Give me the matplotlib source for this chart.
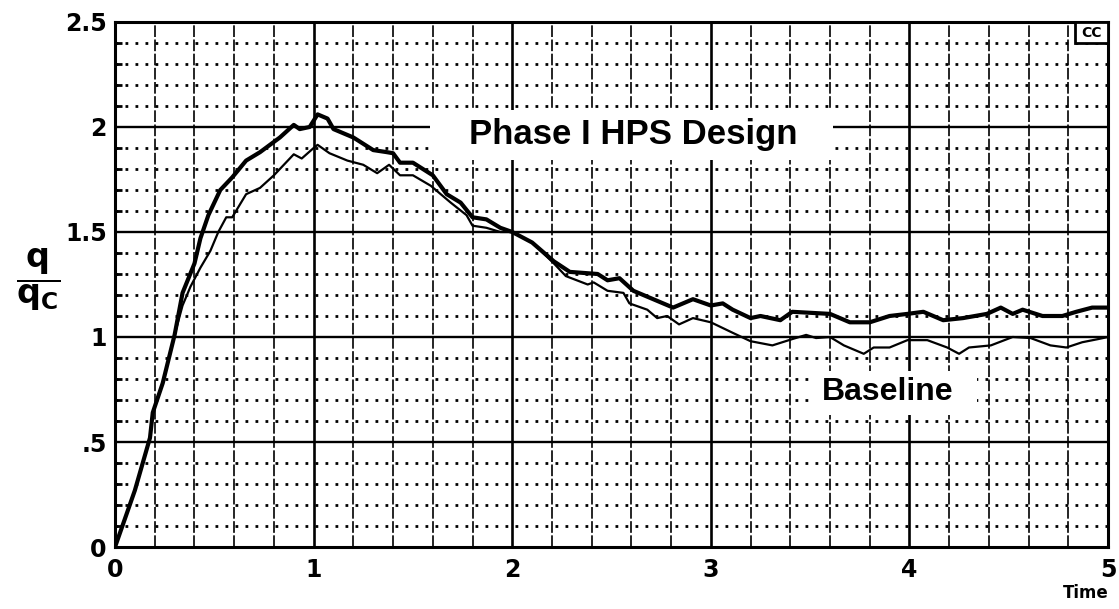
import numpy as np
import matplotlib.pyplot as plt
from matplotlib.patches import Rectangle

# --- pressure ratio histories, q / q_c versus time ---
t_design = [0.0, 0.10, 0.176, 0.19, 0.24, 0.30, 0.34, 0.40, 0.43, 0.47, 0.53, 0.59, 0.66,
            0.73, 0.83, 0.90, 0.93, 0.98, 1.02, 1.07, 1.10, 1.20, 1.30, 1.37, 1.40,
            1.435, 1.50, 1.60, 1.67, 1.74, 1.80, 1.87, 1.94, 2.00, 2.10, 2.21, 2.29,
            2.43, 2.48, 2.54, 2.61, 2.71, 2.81, 2.91, 3.00, 3.06, 3.11, 3.20, 3.25,
            3.35, 3.41, 3.60, 3.70, 3.80, 3.90, 3.99, 4.07, 4.17, 4.27, 4.39, 4.46,
            4.52, 4.57, 4.67, 4.77, 4.84, 4.92, 5.00]
q_design = [0.0, 0.27, 0.52, 0.64, 0.78, 1.01, 1.21, 1.35, 1.47, 1.58, 1.70, 1.76, 1.84,
            1.88, 1.95, 2.01, 1.99, 2.00, 2.06, 2.04, 1.99, 1.95, 1.89, 1.88, 1.875,
            1.83, 1.83, 1.77, 1.68, 1.64, 1.57, 1.56, 1.52, 1.50, 1.45, 1.36, 1.31,
            1.30, 1.27, 1.28, 1.22, 1.18, 1.14, 1.18, 1.15, 1.16, 1.13, 1.09, 1.10,
            1.08, 1.12, 1.11, 1.07, 1.07, 1.10, 1.11, 1.12, 1.08, 1.09, 1.11, 1.14,
            1.11, 1.13, 1.10, 1.10, 1.12, 1.14, 1.14]

t_base = [0.0, 0.10, 0.176, 0.19, 0.24, 0.30, 0.34, 0.38, 0.43, 0.48, 0.52, 0.56, 0.59,
          0.66, 0.73, 0.80, 0.90, 0.94, 1.00, 1.02, 1.08, 1.17, 1.25, 1.32, 1.38,
          1.435, 1.50, 1.59, 1.69, 1.77, 1.80, 1.87, 1.94, 2.00, 2.10, 2.21, 2.27,
          2.38, 2.41, 2.48, 2.56, 2.59, 2.68, 2.73, 2.78, 2.84, 2.91, 3.00, 3.11,
          3.20, 3.31, 3.41, 3.48, 3.53, 3.60, 3.67, 3.77, 3.82, 3.90, 3.99, 4.09,
          4.19, 4.25, 4.30, 4.41, 4.52, 4.61, 4.71, 4.79, 4.87, 4.95, 5.00]
q_base = [0.0, 0.27, 0.52, 0.64, 0.78, 1.01, 1.15, 1.24, 1.33, 1.41, 1.50, 1.57, 1.57,
          1.68, 1.71, 1.77, 1.87, 1.85, 1.90, 1.915, 1.875, 1.84, 1.82, 1.78, 1.82,
          1.77, 1.77, 1.72, 1.64, 1.58, 1.53, 1.52, 1.50, 1.50, 1.45, 1.35, 1.29,
          1.25, 1.26, 1.22, 1.21, 1.16, 1.13, 1.09, 1.10, 1.06, 1.09, 1.07, 1.02,
          0.98, 0.96, 0.99, 1.01, 0.995, 1.00, 0.96, 0.92, 0.95, 0.95, 0.985, 0.985,
          0.95, 0.92, 0.95, 0.96, 1.00, 0.995, 0.96, 0.95, 0.975, 0.99, 1.00]

x_ticks = [0, 1, 2, 3, 4, 5]
y_ticks = [0, 0.5, 1, 1.5, 2, 2.5]
y_tick_labels = ["0", ".5", "1", "1.5", "2", "2.5"]

plt.rcParams['font.family'] = ['Liberation Sans', 'DejaVu Sans']
tick_font = ['DejaVu Sans']

fig = plt.figure(figsize=(11.19, 6.09), dpi=100)
ax = fig.add_axes([0.1028, 0.1018, 0.8874, 0.8621])
ax.set_xlim(0, 5)
ax.set_ylim(0, 2.5)

# grid: dotted every 0.1 / solid every 0.5 in q, thin every 0.2 / heavy every 1 in time
for y in np.arange(0.1, 2.5, 0.1):
    if abs(y / 0.5 - round(y / 0.5)) < 1e-6:
        ax.axhline(y, color='black', lw=1.7, zorder=1)
    else:
        ax.axhline(y, color='black', lw=2.0, linestyle=(0, (1, 2.6)), zorder=1)
for x in np.arange(0.2, 5.0, 0.2):
    if abs(x - round(x)) < 1e-6:
        ax.axvline(x, color='black', lw=1.9, zorder=1)
    else:
        ax.axvline(x, color='black', lw=1.2, linestyle=(0, (7, 1.5)), zorder=1)

# label plates knock out the grid behind them
ax.add_patch(Rectangle((1.586, 1.843), 2.03, 0.238, facecolor='white',
                       edgecolor='none', zorder=2))
ax.add_patch(Rectangle((3.52, 0.63), 0.82, 0.21, facecolor='white',
                       edgecolor='none', zorder=2))

ax.plot(t_base, q_base, color='black', lw=1.6, zorder=3)
ax.plot(t_design, q_design, color='black', lw=3.0, zorder=4)

ax.text(2.61, 1.965, "Phase I HPS Design", fontsize=25, fontweight='bold',
        ha='center', va='center', zorder=5)
ax.text(3.89, 0.74, "Baseline", fontsize=23, fontweight='bold',
        ha='center', va='center', zorder=5)

# small corner tag
ax.add_patch(Rectangle((4.835, 2.40), 0.165, 0.10, facecolor='white',
                       edgecolor='black', lw=2.0, zorder=6))
ax.text(4.917, 2.448, "CC", fontsize=10, fontweight='bold', ha='center',
        va='center', family=tick_font, zorder=7)

for sp in ax.spines.values():
    sp.set_linewidth(2.2)

ax.set_xticks(x_ticks)
ax.set_xticklabels([str(v) for v in x_ticks])
ax.set_yticks(y_ticks)
ax.set_yticklabels(y_tick_labels)
ax.set_yticks(np.arange(0.1, 2.5, 0.1), minor=True)
ax.tick_params(axis='x', length=0, pad=8, labelsize=17)
ax.tick_params(axis='y', which='major', length=0, pad=6, labelsize=17)
ax.tick_params(axis='y', which='minor', direction='in', length=5, width=2)
for lbl in ax.get_xticklabels() + ax.get_yticklabels():
    lbl.set_fontweight('bold')
    lbl.set_family(tick_font)

fig.text(0.970, 0.018, "Time", fontsize=12, fontweight='bold', ha='center',
         family=tick_font)
fig.text(0.034, 0.54, r"$\dfrac{\mathbf{q}}{\mathbf{q}_\mathbf{C}}$", fontsize=24,
         ha='center', va='center')

plt.savefig("out.png", dpi=100)
plt.close()
